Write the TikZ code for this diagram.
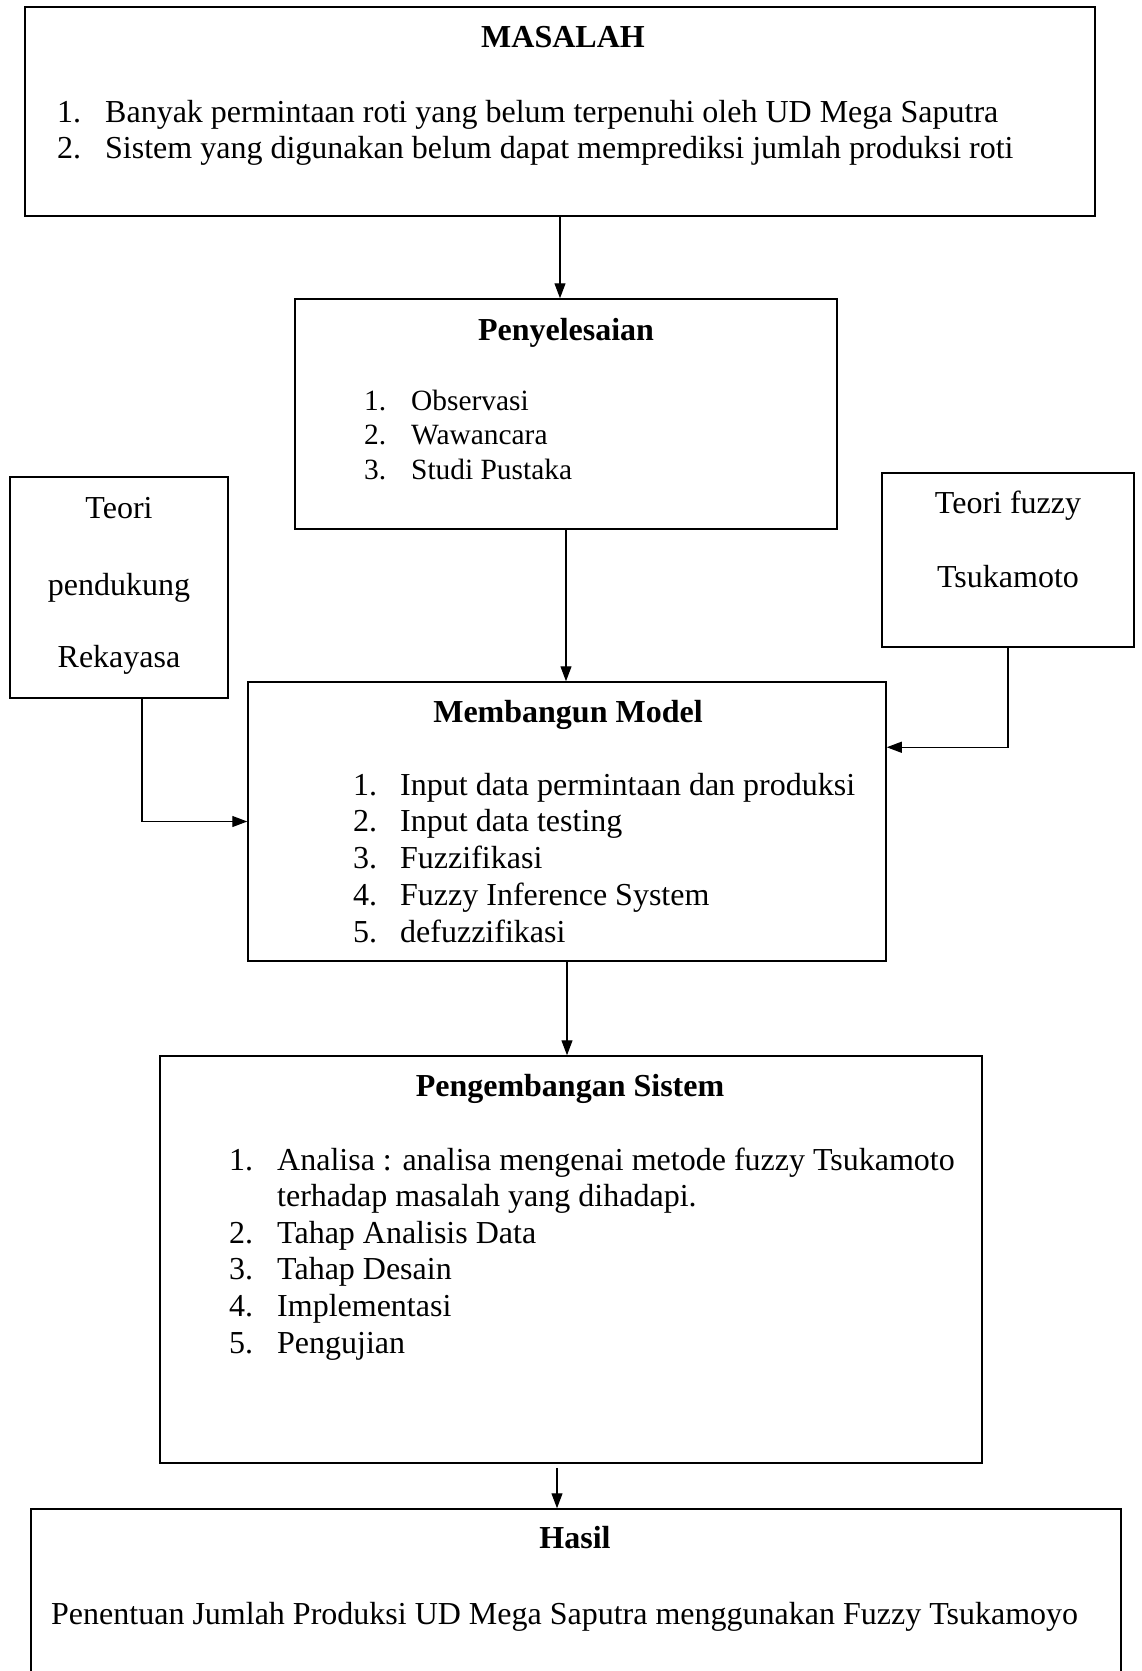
\documentclass[tikz,border=0pt]{standalone}
\usepackage{fontspec}
\setmainfont{Liberation Serif}
\usetikzlibrary{arrows.meta}

\begin{document}
\begin{tikzpicture}[x=1pt,y=-1pt,
  box/.style={draw,line width=1.5pt,inner sep=0pt},
  ttl/.style={font=\fontsize{32}{36.6}\selectfont\bfseries,anchor=base,inner sep=0pt},
  txt/.style={font=\fontsize{32}{36.6}\selectfont,anchor=base west,inner sep=0pt},
  small/.style={txt,font=\fontsize{29.4}{34}\selectfont},
  mid/.style={font=\fontsize{32}{36.6}\selectfont,anchor=base,inner sep=0pt},
  arr/.style={line width=1.2pt,-{Triangle[length=15pt,width=11pt]}}]
  \useasboundingbox (0,0) rectangle (1141,1671);

  % boxes
  \node[box,minimum width=1070pt,minimum height=209pt] (masalah) at (560,111.5) {};
  \node[box,minimum width=542pt,minimum height=230pt] (penyelesaian) at (566,414) {};
  \node[box,minimum width=218pt,minimum height=221pt] (teoriL) at (119,587.5) {};
  \node[box,minimum width=252pt,minimum height=174pt] (fuzzy) at (1008,560) {};
  \node[box,minimum width=638pt,minimum height=279pt] (membangun) at (567,821.5) {};
  \node[box,minimum width=822pt,minimum height=407pt] (pengembangan) at (571,1259.5) {};
  \node[box,minimum width=1090pt,minimum height=200pt] (hasil) at (576,1609) {};

  % masalah
  \node[ttl] (tmasalah) at (563,47) {MASALAH};
  \foreach \t [count=\i] in {Banyak permintaan roti yang belum terpenuhi oleh UD Mega Saputra,
      Sistem yang digunakan belum dapat memprediksi jumlah produksi roti} {
    \node[txt] (mn\i) at (57,{86+36*\i}) {\i.};
    \node[txt] (mt\i) at (105,{86+36*\i}) {\t};
  }

  % penyelesaian
  \node[ttl] (tpenyelesaian) at (566,340) {Penyelesaian};
  \foreach \t [count=\i] in {Observasi,Wawancara,Studi Pustaka} {
    \node[small] (pn\i) at (364,{375.5+34.5*\i}) {\i.};
    \node[small] (pt\i) at (411,{375.5+34.5*\i}) {\t};
  }

  % teori
  \node[mid] (tl1) at (119,518) {Teori};
  \node[mid] (tl2) at (119,595) {pendukung};
  \node[mid] (tl3) at (119,667) {Rekayasa};
  \node[mid] (tr1) at (1008,513) {Teori fuzzy};
  \node[mid] (tr2) at (1008,587) {Tsukamoto};

  % membangun model
  \node[ttl] (tmembangun) at (568,722) {Membangun Model};
  \foreach \t [count=\i] in {Input data permintaan dan produksi,Input data testing,
      Fuzzifikasi,Fuzzy Inference System,defuzzifikasi} {
    \node[txt] (mbn\i) at (353,{758.25+36.75*\i}) {\i.};
    \node[txt] (mbt\i) at (400,{758.25+36.75*\i}) {\t};
  }

  % pengembangan sistem
  \node[ttl] (tpengembangan) at (570,1096) {Pengembangan Sistem};
  \node[txt] (pgn1) at (229,1170) {1.};
  \node[txt] (pgt1) at (277,1170) {Analisa : analisa mengenai metode fuzzy Tsukamoto};
  \node[txt] (pgt1b) at (277,1206.6) {terhadap masalah yang dihadapi.};
  \foreach \t [count=\i from 2] in {Tahap Analisis Data,Tahap Desain,Implementasi,Pengujian} {
    \node[txt] (pgn\i) at (229,{1170+36.6*\i}) {\i.};
    \node[txt] (pgt\i) at (277,{1170+36.6*\i}) {\t};
  }

  % hasil
  \node[ttl] (thasil) at (575,1548) {Hasil};
  \node[txt] (thasil2) at (51,1624) {Penentuan Jumlah Produksi UD Mega Saputra menggunakan Fuzzy Tsukamoyo};

  % arrows
  \draw[arr] (masalah.south) -- (masalah.south |- penyelesaian.north);
  \draw[arr] (penyelesaian.south) -- (penyelesaian.south |- membangun.north);
  \draw[arr] ([xshift=23pt]teoriL.south) |- (membangun.west);
  \draw[arr] (fuzzy.south) |- ([yshift=-66pt]membangun.north east);
  \draw[arr] (membangun.south) -- (membangun.south |- pengembangan.north);
  \coordinate (ph) at ([xshift=-14pt,yshift=-4pt]pengembangan.south);
  \draw[arr] (ph) -- (ph |- hasil.north);
\end{tikzpicture}
\end{document}
